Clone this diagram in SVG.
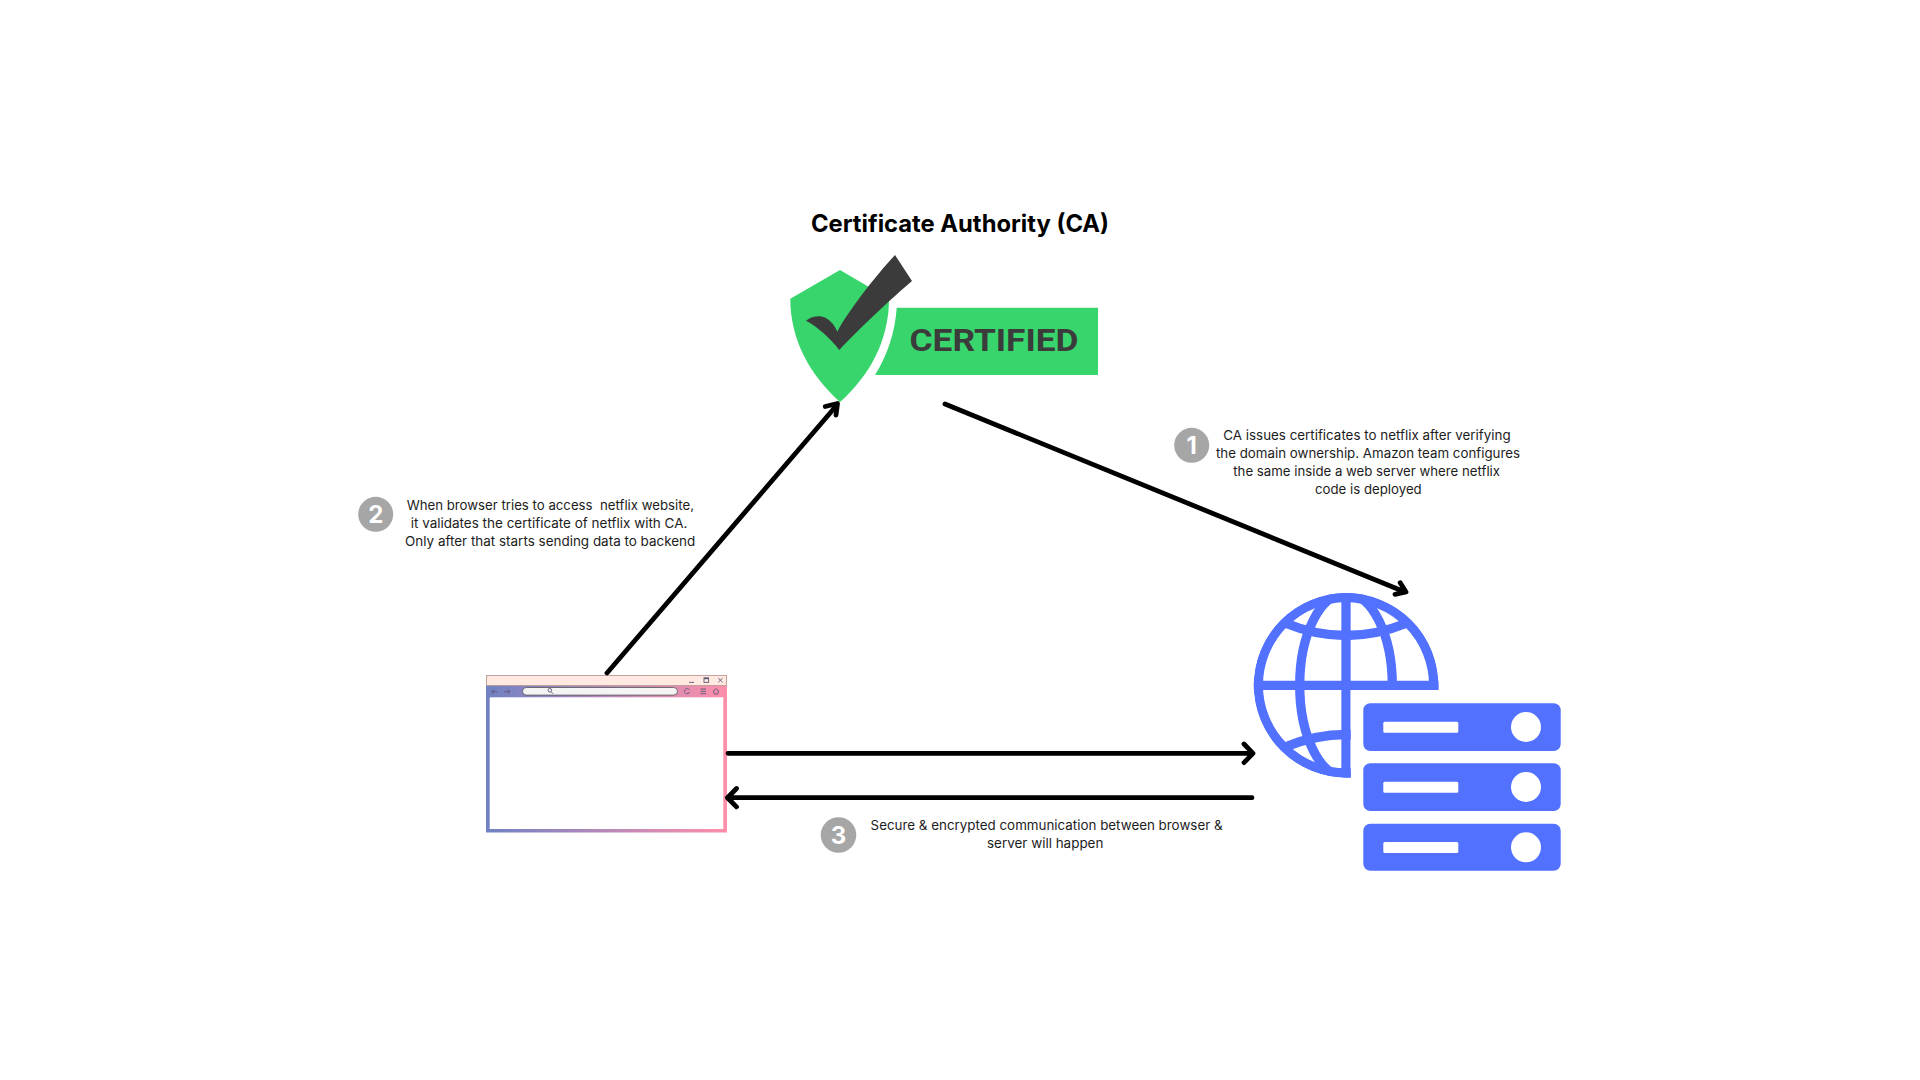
<svg xmlns="http://www.w3.org/2000/svg" width="1920" height="1080" viewBox="0 0 1920 1080">
<style>
.t{font-family:"Inter","Noto Sans",sans-serif;font-size:13px;fill:#1c1c1c}
.d{font-family:"Inter","Noto Sans",sans-serif;font-size:24px;font-weight:700;fill:#fff;text-anchor:middle}
.b{fill:#a6a6a6}
.c{fill:none;stroke:#000;stroke-width:4.8;stroke-linecap:round;stroke-linejoin:round}
.g{fill:none;stroke:#5271ff;stroke-width:9.3}
.s{fill:#5271ff}
.w{fill:#fff}
.i{fill:none;stroke:#5f5a78;stroke-width:.9}
</style>
<defs>
<linearGradient id="bg" gradientUnits="userSpaceOnUse" x1="486" y1="0" x2="727" y2="0"><stop offset="0" stop-color="#6f82c4"/><stop offset="1" stop-color="#ff8fab"/></linearGradient>
<clipPath id="gc"><path d="M1346,593 A92.3,92.3 0 0 1 1438.5,690 L1350.7,690 L1350.7,777.6 L1346,777.6 A92.3,92.3 0 0 1 1346,593 Z"/></clipPath>
</defs>
<rect width="1920" height="1080" fill="#fff"/>
<g id="ca">
<text x="811" y="232" font-family="Inter,Noto Sans,sans-serif" font-size="24" font-weight="700" fill="#000" textLength="298" lengthAdjust="spacingAndGlyphs">Certificate Authority (CA)</text>
<path d="M840,270 L889,298.7 C889,340 870,375 840,402 C810,375 790.3,340 790.3,298.7 Z" fill="#38d46c"/>
<path d="M896.7,307.7 L1098,307.7 L1098,375 L875,375 C887,356 895,333 896.7,307.7 Z" fill="#38d46c"/>
<path d="M895,255 L912,281 C893,297 858,330 839.3,350 C830,338 818,327 806,320.7 C812,316 820,315 826,318 C831,321 835,326 837.3,331.7 C845,316 875,276 895,255 Z" fill="#3b3b3b"/>
<text x="909.5" y="350.7" font-family="Roboto,sans-serif" font-size="31.5" font-weight="700" fill="#3b3b3b" textLength="169" lengthAdjust="spacingAndGlyphs">CERTIFIED</text>
</g>
<g id="browser">
<rect x="486" y="675" width="241" height="157.5" fill="url(#bg)"/>
<rect x="486.4" y="675.4" width="240" height="10" fill="#ffe9e1" stroke="#b89a94" stroke-width=".8"/>
<rect x="489.7" y="697.3" width="233.6" height="131.7" fill="#fff"/>
<rect x="522.5" y="687.5" width="155" height="7.6" rx="3.8" fill="#f4f4f4" stroke="#555" stroke-width=".8"/>
<path class="i" d="M497.3,691.7 H491.7 L494,689.7 M491.7,691.7 L494,693.7 M504,691.7 H510 L507.7,689.7 M510,691.7 L507.7,693.7"/>
<circle class="i" cx="549.8" cy="690.2" r="1.8"/><path class="i" d="M551,691.6 L553,693.8"/>
<path class="i" d="M689.4,689.8 A2.6,2.6 0 1 0 689.6,692"/>
<path class="i" d="M700.5,689 H706 M700.5,691.3 H706 M700.5,693.6 H706"/>
<path class="i" d="M716,688.7 L718.6,690.8 L717.6,694 H714.4 L713.4,690.8 Z"/>
<path class="i" d="M689,682.4 H694"/>
<rect class="i" x="704" y="677.8" width="4.6" height="4.6"/><path d="M704,678.6 H708.6" stroke="#5f5a78" stroke-width="1.2"/>
<path class="i" d="M718.2,678 L722.6,682.4 M722.6,678 L718.2,682.4"/>
</g>
<g id="server">
<g clip-path="url(#gc)">
<circle class="g" cx="1346" cy="685.3" r="87.7"/>
<ellipse class="g" cx="1346" cy="685.3" rx="46.3" ry="92"/>
<path class="g" d="M1346,593 V778"/>
<path class="g" d="M1250,685.3 H1445"/>
<path class="g" d="M1285,623 Q1346,648 1407,623"/>
<path class="g" d="M1285,747 Q1346,722 1407,747"/>
</g>
<rect class="s" x="1363.3" y="703.3" width="197.4" height="47.7" rx="7"/>
<rect class="s" x="1363.3" y="763.3" width="197.4" height="47.7" rx="7"/>
<rect class="s" x="1363.3" y="823.7" width="197.4" height="47" rx="7"/>
<rect class="w" x="1383.3" y="721.7" width="75" height="11" rx="1.5"/>
<rect class="w" x="1383.3" y="781.8" width="75" height="11" rx="1.5"/>
<rect class="w" x="1383.3" y="842" width="75" height="11" rx="1.5"/>
<circle class="w" cx="1526" cy="727" r="15"/>
<circle class="w" cx="1526" cy="787" r="15"/>
<circle class="w" cx="1526" cy="847.3" r="15"/>
</g>
<g id="connectors">
<path class="c" d="M945,404 L1405,592 M1400.2,582.7 L1406,592 L1395,594.3"/>
<path class="c" d="M607,673 L837,405 M825.2,406.5 L837.5,403.5 L836,415"/>
<path class="c" d="M728,753.3 H1252 M1244,744 L1253,753.3 L1244,762.6"/>
<path class="c" d="M1252,797.7 H729 M736.5,788.5 L727.5,797.7 L736.5,806.9"/>
</g>
<g id="step1">
<circle class="b" cx="1191.7" cy="445.3" r="17.5"/>
<text class="d" x="1191.7" y="454">1</text>
<text class="t" x="1223.3" y="440" textLength="287.3" lengthAdjust="spacingAndGlyphs">CA issues certificates to netflix after verifying</text>
<text class="t" x="1216" y="458" textLength="304" lengthAdjust="spacingAndGlyphs">the domain ownership. Amazon team configures</text>
<text class="t" x="1233.3" y="476" textLength="266.7" lengthAdjust="spacingAndGlyphs">the same inside a web server where netflix</text>
<text class="t" x="1315" y="494" textLength="106.7" lengthAdjust="spacingAndGlyphs">code is deployed</text>
</g>
<g id="step2">
<circle class="b" cx="375.7" cy="514.3" r="17.5"/>
<text class="d" x="375.7" y="523">2</text>
<text class="t" x="406.7" y="510" textLength="287.3" lengthAdjust="spacingAndGlyphs" xml:space="preserve">When browser tries to access  netflix website,</text>
<text class="t" x="410.7" y="528" textLength="276.7" lengthAdjust="spacingAndGlyphs">it validates the certificate of netflix with CA.</text>
<text class="t" x="405" y="546" textLength="290.3" lengthAdjust="spacingAndGlyphs">Only after that starts sending data to backend</text>
</g>
<g id="step3">
<circle class="b" cx="838.5" cy="835" r="17.8"/>
<text class="d" x="838.5" y="843.7">3</text>
<text class="t" x="870.6" y="830" textLength="352" lengthAdjust="spacingAndGlyphs">Secure &amp; encrypted communication between browser &amp;</text>
<text class="t" x="987" y="848" textLength="116.4" lengthAdjust="spacingAndGlyphs">server will happen</text>
</g>
</svg>
